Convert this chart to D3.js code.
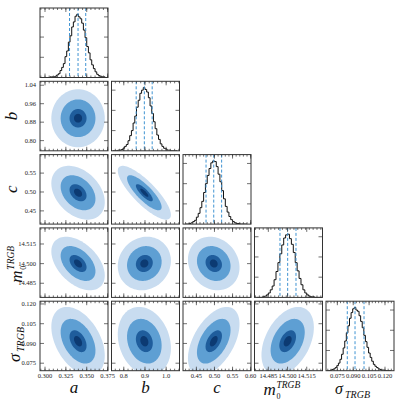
<!DOCTYPE html>
<html><head><meta charset="utf-8">
<script src="https://cdn.jsdelivr.net/npm/d3@7"></script>
<style>body{margin:0;background:#fff}svg{display:block}</style>
</head><body>
<svg id="c" width="399" height="399"></svg>
<script>
// ---------------- DATA ----------------
const params = ["a", "b", "c", "m0", "sigma"];
const medians = [0.3396, 0.897, 0.498, 14.5001, 0.0917];
const q16 = [0.3294, 0.8585, 0.4767, 14.4941, 0.0844];
const q84 = [0.3488, 0.934, 0.5198, 14.5066, 0.1002];
const sds = [0.0097, 0.038, 0.0216, 0.0062, 0.0079];
const corr = [
  [1, 0.0, -0.35, -0.45, -0.42],
  [0.0, 1, -0.82, 0.1, -0.2],
  [-0.35, -0.82, 1, -0.15, 0.5],
  [-0.45, 0.1, -0.15, 1, 0.4],
  [-0.42, -0.2, 0.5, 0.4, 1]
];
// contour radii (Mahalanobis) from outermost to innermost
const levels = [3.3, 2.15, 1.05, 0.5];
const levelColors = ["#c8dcf0", "#5e9fd3", "#1f5d9c", "#0c3a72"];

// histogram bins: start, width, counts
const binStart = [0.300, 0.748, 0.420, 14.476, 0.0655];
const binWidth = [0.002, 0.008, 0.005, 0.0015, 0.0015];
const histA = [0,0,0,1,1,1,2,4,6,11,16,22,33,42,56,66,80,88,97,100,96,93,86,75,63,49,39,28,20,14,9,5,3,2,1,1,0,0];
const histB = [0,0,0,1,1,2,4,7,10,16,24,32,44,55,69,80,91,96,100,97,93,84,71,59,46,35,25,18,11,7,4,3,1,1,0,0,0,0];
const histC = [0,0,1,2,4,6,11,17,26,36,50,64,77,88,97,100,99,91,79,67,53,40,28,19,12,7,4,2,1,1,0,0,0,0];
const histM = [0,0,0,1,2,4,7,12,18,28,41,55,69,83,94,99,100,93,84,71,55,42,30,20,12,7,4,2,1,1,0,0,0,0];
const histS = [0,0,1,2,3,5,8,12,18,26,36,47,60,71,83,92,98,100,96,94,87,78,68,56,46,37,28,21,15,10,7,5,3,2,1,1,0,0,0,0];
const hists = [histA, histB, histC, histM, histS];
const histTicks = [32, 64, 96];

// axis domains (column / x) and row (y)
const xDomains = [[0.294, 0.3755], [0.742, 1.063], [0.413, 0.601], [14.4742, 14.5273], [0.0643, 0.1285]];
const yDomains = [null, [0.756, 1.057], [0.415, 0.599], [14.4742, 14.5273], [0.0693, 0.1221]];

// ticks
const xMajor = [[0.300, 0.325, 0.350, 0.375], [0.8, 0.9, 1.0], [0.45, 0.50, 0.55, 0.60], [14.485, 14.500, 14.515], [0.075, 0.090, 0.105, 0.120]];
const xMajorLabels = [["0.300", "0.325", "0.350", "0.375"], ["0.8", "0.9", "1.0"], ["0.45", "0.50", "0.55", "0.60"], ["14.485", "14.500", "14.515"], ["0.075", "0.090", "0.105", "0.120"]];
const xMinorStep = [0.005, 0.02, 0.01, 0.003, 0.003];
const yMajor = [null, [0.80, 0.88, 0.96, 1.04], [0.45, 0.50, 0.55], [14.485, 14.500, 14.515], [0.075, 0.090, 0.105, 0.120]];
const yMajorLabels = [null, ["0.80", "0.88", "0.96", "1.04"], ["0.45", "0.50", "0.55"], ["14.485", "14.500", "14.515"], ["0.075", "0.090", "0.105", "0.120"]];

// ---------------- LAYOUT ----------------
const L = 40, CS = 71.5, W = 68, T = 8, RS = 73.3, H = 69.5;
const svg = d3.select("#c");
const defs = svg.append("defs");
const frameColor = "#333";
const tickFont = "'Liberation Serif', 'DejaVu Serif', serif";

function minorTicks(dom, step) {
  const out = [];
  const s = Math.ceil(dom[0] / step - 1e-6), e = Math.floor(dom[1] / step + 1e-6);
  for (let k = s; k <= e; k++) out.push(k * step);
  return out;
}

function drawTicks(g, xs, ys, col, yTicksVals) {
  const xmin = minorTicks(xs.domain(), xMinorStep[col]);
  const xm = xMajor[col].filter(v => v >= xs.domain()[0] - 1e-9 && v <= xs.domain()[1] + 1e-9);
  const lines = [];
  xmin.forEach(v => { lines.push([xs(v), H, xs(v), H - 2]); lines.push([xs(v), 0, xs(v), 2]); });
  xm.forEach(v => { lines.push([xs(v), H, xs(v), H - 4]); lines.push([xs(v), 0, xs(v), 4]); });
  yTicksVals.forEach(v => { lines.push([0, ys(v), 4, ys(v)]); lines.push([W, ys(v), W - 4, ys(v)]); });
  g.selectAll("line.tk").data(lines).enter().append("line").attr("class", "tk")
    .attr("x1", d => d[0]).attr("y1", d => d[1]).attr("x2", d => d[2]).attr("y2", d => d[3])
    .attr("stroke", frameColor).attr("stroke-width", 0.7);
}

function frame(g) {
  g.append("rect").attr("x", 0).attr("y", 0).attr("width", W).attr("height", H)
    .attr("fill", "none").attr("stroke", frameColor).attr("stroke-width", 1);
}

const n = params.length;
for (let r = 0; r < n; r++) {
  for (let c = 0; c <= r; c++) {
    const px = L + c * CS, py = T + r * RS;
    const g = svg.append("g").attr("transform", `translate(${px},${py})`);
    const clipId = `clip${r}${c}`;
    defs.append("clipPath").attr("id", clipId).append("rect").attr("width", W).attr("height", H);
    const xs = d3.scaleLinear().domain(xDomains[c]).range([0, W]);
    if (r === c) {
      const counts = hists[c];
      const ys = d3.scaleLinear().domain([0, 1.1 * d3.max(counts)]).range([H, 0]);
      const pts = [[binStart[c], 0]];
      counts.forEach((v, k) => {
        pts.push([binStart[c] + k * binWidth[c], v]);
        pts.push([binStart[c] + (k + 1) * binWidth[c], v]);
      });
      pts.push([binStart[c] + counts.length * binWidth[c], 0]);
      const inner = g.append("g").attr("clip-path", `url(#${clipId})`);
      inner.append("path").attr("d", d3.line().x(d => xs(d[0])).y(d => ys(d[1]))(pts))
        .attr("fill", "none").attr("stroke", "#111").attr("stroke-width", 1);
      [q16[c], medians[c], q84[c]].forEach(v => {
        inner.append("line").attr("x1", xs(v)).attr("x2", xs(v)).attr("y1", 0).attr("y2", H)
          .attr("stroke", "#3f93d2").attr("stroke-width", 1).attr("stroke-dasharray", "3,2");
      });
      drawTicks(g, xs, ys, c, histTicks);
    } else {
      const ys = d3.scaleLinear().domain(yDomains[r]).range([H, 0]);
      const inner = g.append("g").attr("clip-path", `url(#${clipId})`);
      const rho = corr[c][r];
      const angles = d3.range(0, 2 * Math.PI + 0.01, Math.PI / 48);
      levels.forEach((k, li) => {
        const line = d3.line()
          .x(t => xs(medians[c] + k * sds[c] * Math.cos(t)))
          .y(t => ys(medians[r] + k * sds[r] * (rho * Math.cos(t) + Math.sqrt(1 - rho * rho) * Math.sin(t))))
          .curve(d3.curveLinearClosed);
        inner.append("path").attr("d", line(angles)).attr("fill", levelColors[li]).attr("stroke", "none");
      });
      drawTicks(g, xs, ys, c, yMajor[r]);
      if (c === 0) {
        yMajor[r].forEach((v, k) => {
          g.append("text").attr("x", -4).attr("y", ys(v)).attr("dy", "0.33em")
            .attr("text-anchor", "end").attr("font-family", tickFont).attr("font-size", 6.5)
            .attr("fill", "#222").text(yMajorLabels[r][k]);
        });
      }
    }
    if (r === n - 1) {
      xMajor[c].forEach((v, k) => {
        g.append("text").attr("x", xs(v)).attr("y", H + 7.5).attr("text-anchor", "middle")
          .attr("font-family", tickFont).attr("font-size", 6.5).attr("fill", "#222")
          .text(xMajorLabels[c][k]);
      });
    }
    frame(g);
  }
}

// ---------------- AXIS LABELS ----------------
const labFont = "'Liberation Serif', 'DejaVu Serif', serif";
function simpleLabel(x, y, txt, rot) {
  svg.append("text").attr("transform", `translate(${x},${y}) rotate(${rot})`)
    .attr("text-anchor", "middle").attr("font-family", labFont).attr("font-style", "italic")
    .attr("font-size", 17).attr("fill", "#111").text(txt);
}
// bottom
const bottomY = 393;
simpleLabel(L + 0 * CS + W / 2, bottomY, "a", 0);
simpleLabel(L + 1 * CS + W / 2, bottomY, "b", 0);
simpleLabel(L + 2 * CS + W / 2, bottomY, "c", 0);
// left
const leftX = 17;
simpleLabel(leftX, T + 1 * RS + H / 2, "b", -90);
simpleLabel(leftX, T + 2 * RS + H / 2, "c", -90);

function mLabel(g, supY, subY) {
  g.append("text").attr("x", 0).attr("y", 0).attr("font-family", labFont).attr("font-style", "italic")
    .attr("font-size", 17).attr("fill", "#111").text("m");
  g.append("text").attr("x", 13).attr("y", supY).attr("font-family", labFont).attr("font-style", "italic")
    .attr("font-size", 9.5).attr("fill", "#111").text("TRGB");
  g.append("text").attr("x", 13).attr("y", subY).attr("font-family", labFont)
    .attr("font-size", 8).attr("fill", "#111").text("0");
}
function sLabel(g, size) {
  g.append("text").attr("x", 0).attr("y", 0).attr("font-family", labFont).attr("font-style", "italic")
    .attr("font-size", size).attr("fill", "#111").text("σ");
  g.append("text").attr("x", 10).attr("y", 4).attr("font-family", labFont).attr("font-style", "italic")
    .attr("font-size", 10).attr("fill", "#111").text("TRGB");
}
mLabel(svg.append("g").attr("transform", `translate(${L + 3 * CS + 9},395)`), -7, 3.5);
sLabel(svg.append("g").attr("transform", `translate(${L + 4 * CS + 9},394)`), 16);
mLabel(svg.append("g").attr("transform", `translate(${leftX + 5},${T + 3 * RS + H / 2 + 20}) rotate(-90)`), -8, 4);
sLabel(svg.append("g").attr("transform", `translate(${leftX + 3},${T + 4 * RS + H / 2 + 26}) rotate(-90)`), 17);
</script>
</body></html>
